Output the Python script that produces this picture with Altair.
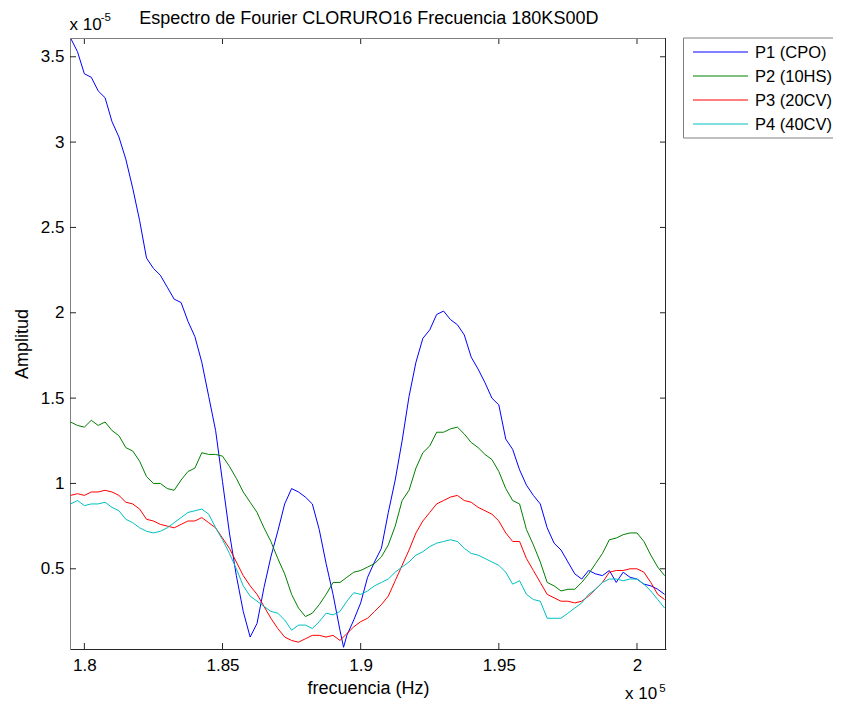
import altair as alt
import pandas as pd

# ---------------- data (frequency in Hz, amplitude in units of 1e-5) ----------------
freq = [179500, 179750, 180000, 180250, 180500, 180750, 181000, 181250, 181500, 181750,
        182000, 182250, 182500, 182750, 183000, 183250, 183500, 183750, 184000, 184250,
        184500, 184750, 185000, 185250, 185500, 185750, 186000, 186250, 186500, 186750,
        187000, 187250, 187500, 187750, 188000, 188250, 188500, 188750, 189000, 189250,
        189500, 189750, 190000, 190250, 190500, 190750, 191000, 191250, 191500, 191750,
        192000, 192250, 192500, 192750, 193000, 193250, 193500, 193750, 194000, 194250,
        194500, 194750, 195000, 195250, 195500, 195750, 196000, 196250, 196500, 196750,
        197000, 197250, 197500, 197750, 198000, 198250, 198500, 198750, 199000, 199250,
        199500, 199750, 200000, 200250, 200500, 200750, 201000]

amp_p1 = [3.61, 3.53, 3.40, 3.38, 3.30, 3.26, 3.12, 3.03, 2.90, 2.73,
          2.54, 2.32, 2.26, 2.22, 2.15, 2.08, 2.06, 1.95, 1.86, 1.71,
          1.51, 1.31, 1.01, 0.71, 0.46, 0.25, 0.10, 0.18, 0.39, 0.57,
          0.72, 0.88, 0.97, 0.95, 0.92, 0.88, 0.73, 0.53, 0.35, 0.14,
          0.11, 0.20, 0.30, 0.45, 0.54, 0.62, 0.83, 1.02, 1.25, 1.51,
          1.71, 1.85, 1.90, 1.99, 2.01, 1.96, 1.93, 1.87, 1.74, 1.67,
          1.59, 1.50, 1.46, 1.26, 1.20, 1.08, 0.99, 0.93, 0.88, 0.74,
          0.65, 0.61, 0.54, 0.47, 0.44, 0.49, 0.47, 0.46, 0.49, 0.42,
          0.48, 0.45, 0.44, 0.41, 0.40, 0.38, 0.35]
# P1 deep minimum that falls between two samples
freq_p1_extra = [189380]
amp_p1_extra = [0.04]

amp_p2 = [1.36, 1.34, 1.33, 1.37, 1.34, 1.36, 1.31, 1.28, 1.21, 1.19,
          1.13, 1.04, 1.00, 1.00, 0.97, 0.96, 1.02, 1.07, 1.09, 1.18,
          1.17, 1.17, 1.16, 1.10, 1.03, 0.95, 0.89, 0.83, 0.74, 0.66,
          0.56, 0.47, 0.35, 0.27, 0.22, 0.24, 0.29, 0.35, 0.42, 0.42,
          0.45, 0.48, 0.49, 0.51, 0.53, 0.57, 0.64, 0.75, 0.90, 0.96,
          1.09, 1.18, 1.22, 1.30, 1.30, 1.32, 1.33, 1.29, 1.24, 1.21,
          1.17, 1.14, 1.07, 0.97, 0.90, 0.88, 0.73, 0.64, 0.54, 0.42,
          0.40, 0.37, 0.38, 0.38, 0.42, 0.47, 0.53, 0.59, 0.67, 0.68,
          0.70, 0.71, 0.71, 0.66, 0.58, 0.51, 0.46]

amp_p3 = [0.93, 0.94, 0.93, 0.95, 0.95, 0.96, 0.95, 0.93, 0.89, 0.88,
          0.85, 0.79, 0.78, 0.76, 0.75, 0.74, 0.76, 0.78, 0.78, 0.80,
          0.77, 0.74, 0.68, 0.62, 0.54, 0.46, 0.40, 0.35, 0.28, 0.21,
          0.15, 0.10, 0.08, 0.07, 0.09, 0.11, 0.11, 0.10, 0.11, 0.08,
          0.12, 0.16, 0.19, 0.21, 0.25, 0.29, 0.34, 0.43, 0.52, 0.61,
          0.71, 0.78, 0.83, 0.88, 0.90, 0.92, 0.93, 0.90, 0.89, 0.86,
          0.84, 0.82, 0.78, 0.71, 0.66, 0.66, 0.56, 0.49, 0.42, 0.35,
          0.33, 0.31, 0.31, 0.30, 0.31, 0.34, 0.38, 0.42, 0.48, 0.49,
          0.49, 0.50, 0.50, 0.48, 0.42, 0.35, 0.32]

amp_p4 = [0.88, 0.90, 0.87, 0.88, 0.88, 0.89, 0.86, 0.84, 0.79, 0.77,
          0.74, 0.72, 0.71, 0.72, 0.74, 0.77, 0.80, 0.83, 0.84, 0.85,
          0.82, 0.74, 0.67, 0.59, 0.50, 0.40, 0.34, 0.31, 0.28, 0.25,
          0.24, 0.20, 0.14, 0.17, 0.17, 0.15, 0.19, 0.24, 0.23, 0.25,
          0.31, 0.36, 0.35, 0.37, 0.40, 0.42, 0.44, 0.48, 0.51, 0.54,
          0.58, 0.60, 0.63, 0.65, 0.66, 0.67, 0.66, 0.62, 0.59, 0.58,
          0.56, 0.54, 0.52, 0.48, 0.41, 0.43, 0.35, 0.32, 0.31, 0.21,
          0.21, 0.21, 0.24, 0.27, 0.30, 0.35, 0.38, 0.42, 0.44, 0.44,
          0.43, 0.44, 0.44, 0.41, 0.37, 0.32, 0.27]

series_names = ["P1 (CPO)", "P2 (10HS)", "P3 (20CV)", "P4 (40CV)"]
series_colors = ["#0000ff", "#008000", "#ff0000", "#00bfbf"]

x_ticks = [180000, 185000, 190000, 195000, 200000]
y_ticks = [0.5, 1, 1.5, 2, 2.5, 3, 3.5]

title_text = "Espectro de Fourier CLORURO16 Frecuencia 180KS00D"
x_title = "frecuencia (Hz)"
y_title = "Amplitud"

# ---------------- build table ----------------
rows = []
for name, amps in zip(series_names, [amp_p1, amp_p2, amp_p3, amp_p4]):
    for f, a in zip(freq, amps):
        rows.append({"f": f, "a": a, "serie": name})
for f, a in zip(freq_p1_extra, amp_p1_extra):
    rows.append({"f": f, "a": a, "serie": series_names[0]})
df = pd.DataFrame(rows)

# ---------------- layout ----------------
W, H = 596, 611
FONT = "Liberation Sans"
X_DOMAIN = [179480, 201050]
Y_DOMAIN = [0.03, 3.61]
DARK = "#262626"
GREY = "#808080"
TICK = 6

xscale = alt.Scale(domain=X_DOMAIN, nice=False, zero=False)
yscale = alt.Scale(domain=Y_DOMAIN, nice=False, zero=False)
cscale = alt.Scale(domain=series_names, range=series_colors)

xaxis = alt.Axis(values=x_ticks, labelExpr="format(datum.value / 100000, '~g')",
                 title=x_title, grid=False, ticks=False, tickSize=0,
                 domainColor=DARK, domainWidth=1,
                 labelFont=FONT, labelFontSize=17, labelColor="black",
                 labelPadding=8, labelFlush=False, labelOverlap=False,
                 titleFont=FONT, titleFontSize=18, titleFontWeight="normal",
                 titleColor="black", titleX=W / 2, titleY=44,
                 titleAlign="center", titleBaseline="alphabetic")
yaxis = alt.Axis(values=y_ticks, format="~g",
                 title=y_title, grid=False, ticks=False, tickSize=0,
                 domainColor=GREY, domainWidth=1,
                 labelFont=FONT, labelFontSize=17, labelColor="black",
                 labelPadding=6, labelFlush=False, labelOverlap=False,
                 titleFont=FONT, titleFontSize=18, titleFontWeight="normal",
                 titleColor="black", titleX=-47.5, titleY=H / 2,
                 titleAngle=270, titleAlign="center", titleBaseline="middle")

one = pd.DataFrame({"k": [0]})

lines = alt.Chart(df).mark_line(strokeWidth=1, clip=True).encode(
    x=alt.X("f:Q", scale=xscale, axis=xaxis),
    y=alt.Y("a:Q", scale=yscale, axis=yaxis),
    color=alt.Color("serie:N", scale=cscale, legend=None),
)

xt = pd.DataFrame({"f": x_ticks})
yt = pd.DataFrame({"a": y_ticks})
xtick_bottom = alt.Chart(xt).mark_rule(strokeWidth=1).encode(
    x=alt.X("f:Q", scale=xscale, axis=xaxis), y=alt.value(H), y2=alt.value(H - TICK),
    color=alt.value(DARK))
xtick_top = alt.Chart(xt).mark_rule(strokeWidth=1).encode(
    x=alt.X("f:Q", scale=xscale, axis=xaxis), y=alt.value(0), y2=alt.value(TICK),
    color=alt.value(DARK))
ytick_left = alt.Chart(yt).mark_rule(strokeWidth=1).encode(
    y=alt.Y("a:Q", scale=yscale, axis=yaxis), x=alt.value(0), x2=alt.value(TICK),
    color=alt.value(DARK))
ytick_right = alt.Chart(yt).mark_rule(strokeWidth=1).encode(
    y=alt.Y("a:Q", scale=yscale, axis=yaxis), x=alt.value(W), x2=alt.value(W - TICK),
    color=alt.value(DARK))

frame_top = alt.Chart(one).mark_rule(strokeWidth=1).encode(
    x=alt.value(0), x2=alt.value(W), y=alt.value(0.5), color=alt.value(GREY))
frame_right = alt.Chart(one).mark_rule(strokeWidth=1).encode(
    x=alt.value(W - 0.5), y=alt.value(0), y2=alt.value(H), color=alt.value(DARK))


def text_layer(txt, x, y, size, align="left", baseline="alphabetic"):
    return alt.Chart(pd.DataFrame({"t": [txt]})).mark_text(
        align=align, baseline=baseline, font=FONT, fontSize=size
    ).encode(x=alt.value(x), y=alt.value(y), text="t:N", color=alt.value("black"))


title = text_layer(title_text, W / 2 + 0.8, -14, 18, align="center")
exp_y_base = text_layer("x 10", -0.5, -8.5, 17)
exp_y_sup = text_layer("-5", 30.7, -17, 11.5)
exp_x_base = text_layer("x 10", 555, 661, 17)
exp_x_sup = text_layer("5", 589.3, 653.5, 11.5)

# legend
legend_box = alt.Chart(one).mark_rect(strokeWidth=1).encode(
    x=alt.value(613.5), x2=alt.value(780), y=alt.value(0), y2=alt.value(100),
    fill=alt.value("white"), stroke=alt.value(GREY))
legend_layers = [legend_box]
for i, (name, col) in enumerate(zip(series_names, series_colors)):
    ly = 14 + 24 * i
    legend_layers.append(
        alt.Chart(one).mark_rule(strokeWidth=1.2).encode(
            x=alt.value(623), x2=alt.value(678), y=alt.value(ly),
            color=alt.value(col)))
    legend_layers.append(text_layer(name, 685, ly + 0.5, 16.5, baseline="middle"))

chart = alt.layer(
    lines, xtick_bottom, xtick_top, ytick_left, ytick_right, frame_top, frame_right,
    title, exp_y_base, exp_y_sup, exp_x_base, exp_x_sup, *legend_layers
).properties(
    width=W, height=H,
    padding={"left": 62, "top": 30, "right": 167, "bottom": 53},
    autosize=alt.AutoSizeParams(type="none"),
    background="white",
).configure_view(stroke=None)

chart.save("out.html", embed_options={"renderer": "svg", "actions": False})
